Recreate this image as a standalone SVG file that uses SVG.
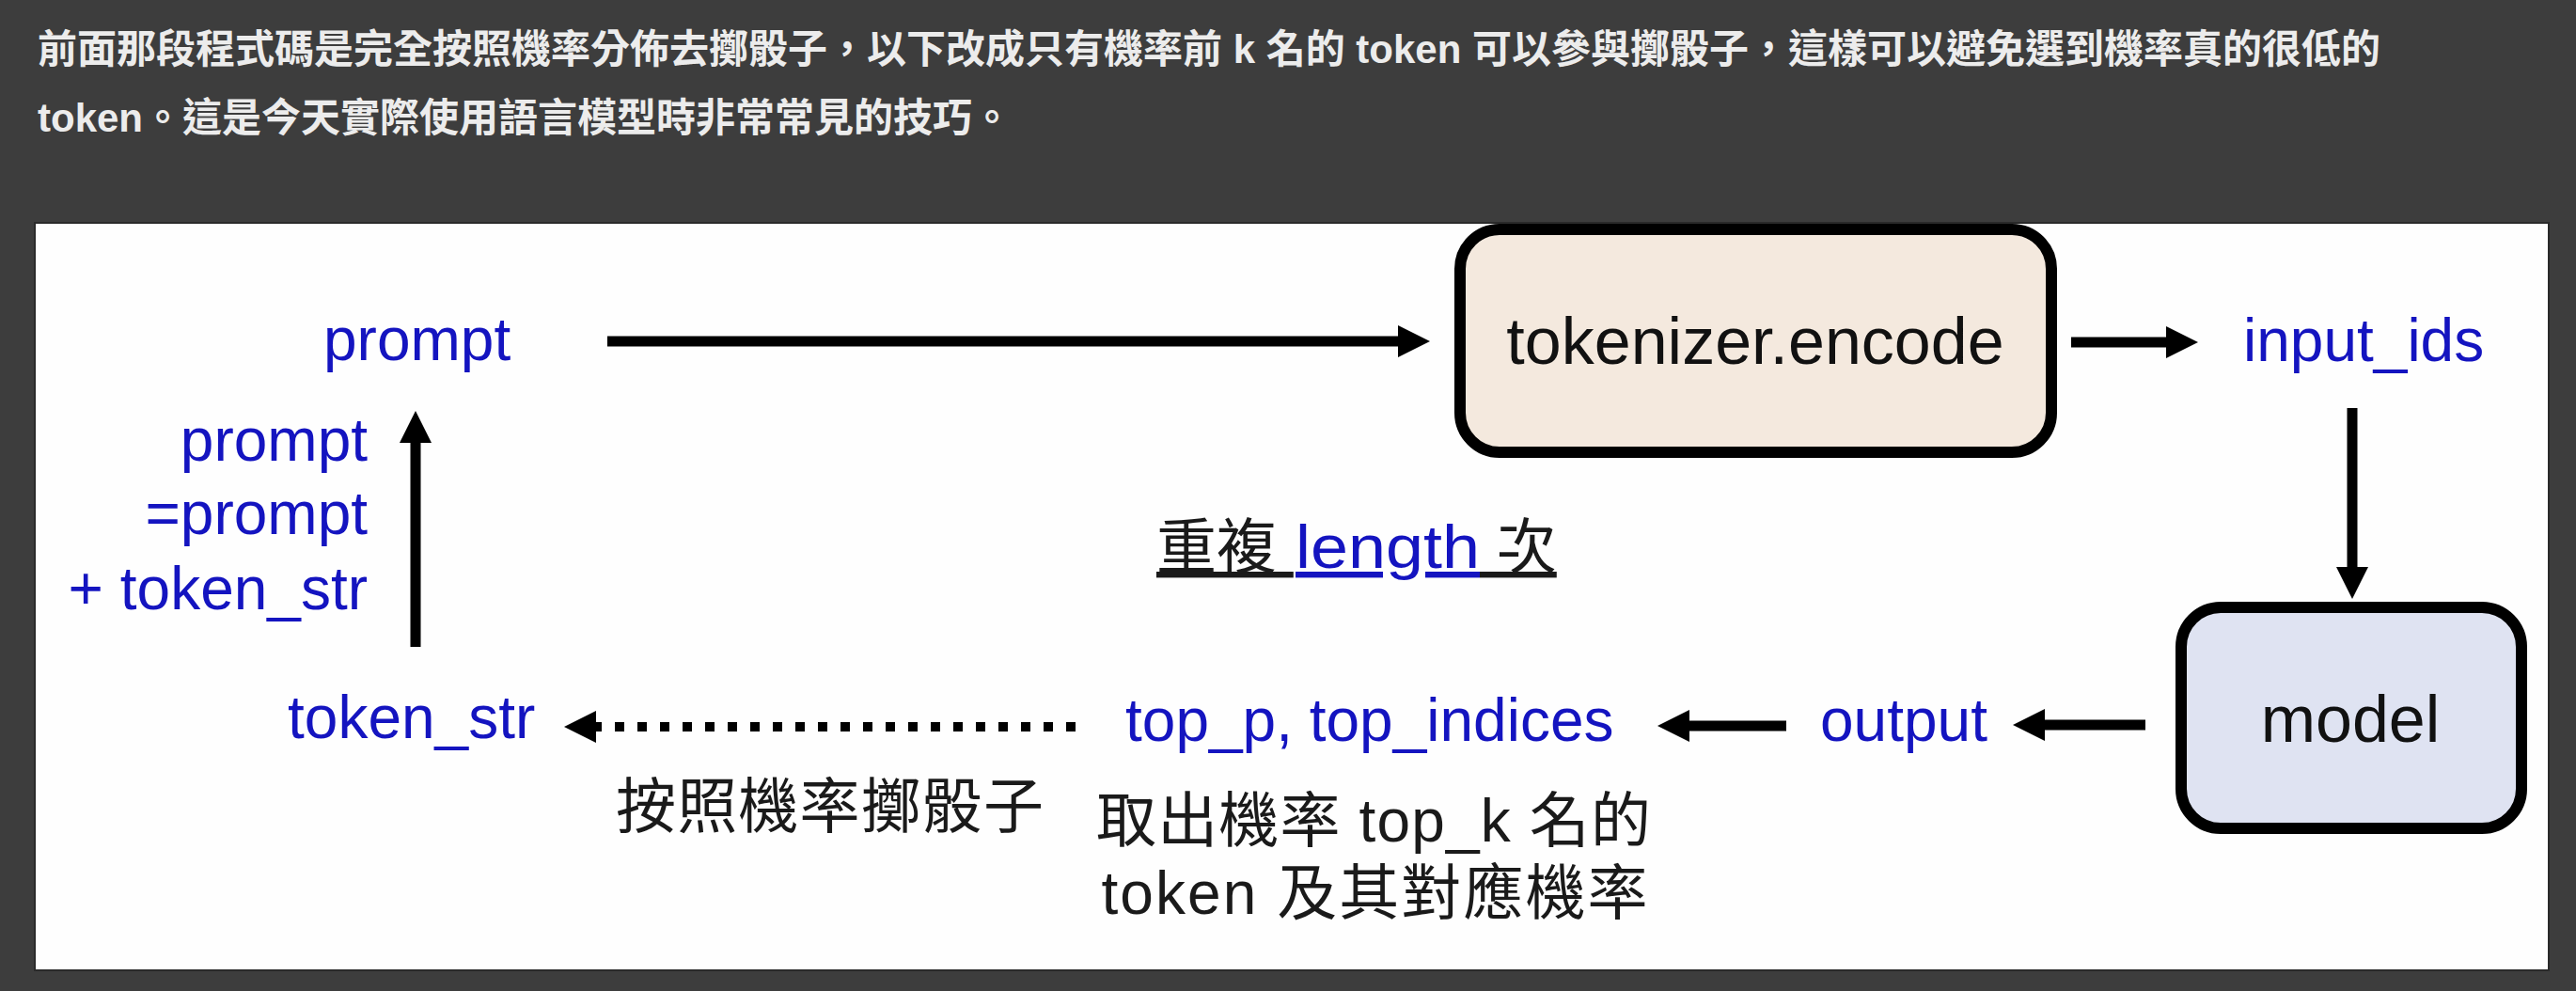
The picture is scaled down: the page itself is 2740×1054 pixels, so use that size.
<svg xmlns="http://www.w3.org/2000/svg" width="2740" height="1054" viewBox="0 0 2740 1054">
  <defs>
    <style>
      .hdr { font-family: "Liberation Sans", "Noto Sans CJK TC", sans-serif; font-size: 42px; font-weight: bold; fill: #ececec; }
      .var { font-family: "Liberation Sans", "Noto Sans CJK TC", sans-serif; font-size: 64px; fill: #1414c0; }
      .box-label { font-family: "Liberation Sans", "Noto Sans CJK TC", sans-serif; font-size: 70px; fill: #111111; text-anchor: middle; }
      .note { font-family: "Liberation Sans", "Noto Sans CJK TC", sans-serif; font-size: 64px; fill: #1a1a1a; }
      .box { stroke: #000000; stroke-width: 12; }
      .conn { stroke: #000000; stroke-width: 11; fill: none; }
      .dotted { stroke: #000000; stroke-width: 10; fill: none; stroke-dasharray: 10 14; }
    </style>
    <marker id="head" markerUnits="userSpaceOnUse" markerWidth="34" markerHeight="34" refX="0" refY="17" orient="auto">
      <path d="M0,0 L34,17 L0,34 Z" fill="#000000"/>
    </marker>
  </defs>

  <!-- background -->
  <rect x="0" y="0" width="2740" height="1054" fill="#3d3d3d"/>

  <!-- header text -->
  <text class="hdr" x="40" y="67">前面那段程式碼是完全按照機率分佈去擲骰子，以下改成只有機率前 k 名的 token 可以參與擲骰子，這樣可以避免選到機率真的很低的</text>
  <text class="hdr" x="40" y="140">token。這是今天實際使用語言模型時非常常見的技巧。</text>

  <!-- panel -->
  <rect x="37" y="237" width="2674" height="795" fill="#fefefe" stroke="#2a2a2a" stroke-width="2"/>

  <!-- connectors -->
  <g id="connectors">
    <line class="conn" x1="646" y1="363" x2="1487" y2="363" marker-end="url(#head)"/>
    <line class="conn" x1="2203" y1="364" x2="2304" y2="364" marker-end="url(#head)"/>
    <line class="conn" x1="2502" y1="434" x2="2502" y2="603" stroke-width="10" marker-end="url(#head)"/>
    <line class="conn" x1="2282" y1="771" x2="2175" y2="771" stroke-width="12" marker-end="url(#head)"/>
    <line class="conn" x1="1900" y1="772" x2="1797" y2="772" stroke-width="12" marker-end="url(#head)"/>
    <line class="dotted" x1="1144" y1="773" x2="634" y2="773" marker-end="url(#head)"/>
    <line class="conn" x1="442" y1="688" x2="442" y2="471" marker-end="url(#head)"/>
  </g>

  <!-- nodes -->
  <g id="node-prompt">
    <text class="var" x="344" y="383" font-size="65">prompt</text>
  </g>

  <g id="node-tokenizer">
    <rect class="box" x="1553" y="244" width="629" height="237" rx="42" ry="42" fill="#f4e9de"/>
    <text class="box-label" x="1867" y="387">tokenizer.encode</text>
  </g>

  <g id="node-input-ids">
    <text class="var" x="2386" y="384">input_ids</text>
  </g>

  <g id="node-model">
    <rect class="box" x="2320" y="646" width="362" height="235" rx="42" ry="42" fill="#dfe3f2"/>
    <text class="box-label" x="2500" y="789">model</text>
  </g>

  <g id="node-output">
    <text class="var" x="1936" y="788" font-size="66">output</text>
  </g>

  <g id="node-top">
    <text class="var" x="1197" y="788">top_p, top_indices</text>
    <text class="note" x="1461" y="895" text-anchor="middle" textLength="590" lengthAdjust="spacing">取出機率 top_k 名的</text>
    <text class="note" x="1462" y="972" text-anchor="middle" textLength="581" lengthAdjust="spacing">token 及其對應機率</text>
  </g>

  <g id="node-token-str">
    <text class="var" x="306" y="785">token_str</text>
    <text class="note" x="655" y="880" textLength="455" lengthAdjust="spacing">按照機率擲骰子</text>
  </g>

  <g id="label-update">
    <text class="var" x="391" y="490" text-anchor="end">prompt</text>
    <text class="var" x="391" y="568" text-anchor="end">=prompt</text>
    <text class="var" x="391" y="648" text-anchor="end">+ token_str</text>
  </g>

  <g id="label-repeat">
    <text class="note" y="604"><tspan x="1230" text-decoration="underline">重複 </tspan><tspan x="1378" fill="#1414c0" text-decoration="underline" textLength="196" lengthAdjust="spacingAndGlyphs">length</tspan><tspan x="1574" text-decoration="underline"> 次</tspan></text>
  </g>
</svg>
